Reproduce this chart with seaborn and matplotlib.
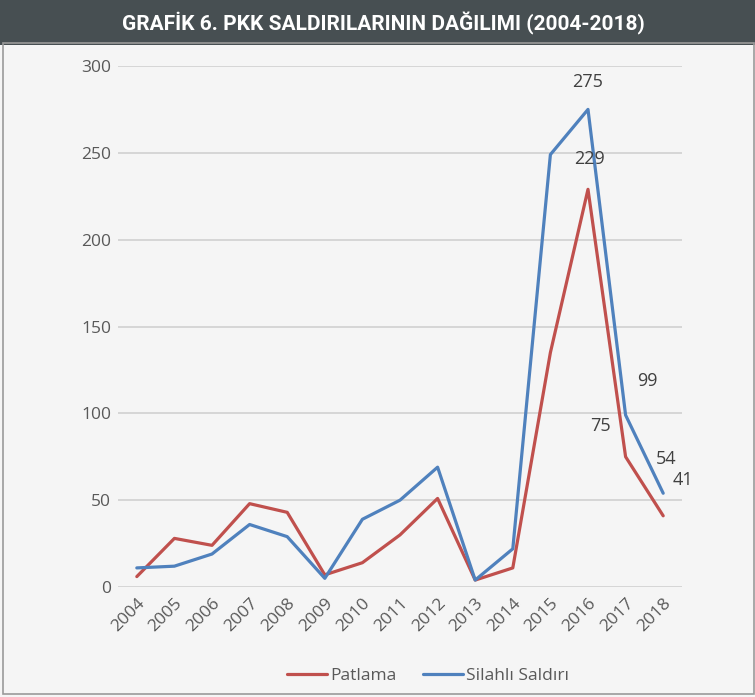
import pandas as pd
import numpy as np
import matplotlib
matplotlib.use("Agg")
import matplotlib.pyplot as plt
import seaborn as sns
from matplotlib.patches import Rectangle

years = [str(y) for y in range(2004, 2019)]
patlama = [6, 28, 24, 48, 43, 7, 14, 30, 51, 4, 11, 135, 229, 75, 41]
silahli = [11, 12, 19, 36, 29, 5, 39, 50, 69, 4, 22, 249, 275, 99, 54]
series_names = ["Patlama", "Silahlı Saldırı"]
title = "GRAFİK 6. PKK SALDIRILARININ DAĞILIMI (2004-2018)"

df = pd.DataFrame({"Yıl": years * 2,
                   "Sayı": patlama + silahli,
                   "Tür": [series_names[0]] * len(years) + [series_names[1]] * len(years)})

sns.set_style("white")
plt.rcParams["font.family"] = ["Open Sans", "DejaVu Sans"]

bg = "#f5f5f5"
fig = plt.figure(figsize=(7.55, 6.97), dpi=100, facecolor=bg)

# title bar
fig.patches.append(Rectangle((0, 0.9354), 1, 0.0646, transform=fig.transFigure,
                             facecolor="#474f52", edgecolor="none", zorder=0))
fig.text(0.508, 0.967, title, color="white", fontsize=15, fontweight="bold",
         ha="center", va="center", family=["Roboto", "DejaVu Sans"])
# outer frame
fig.patches.append(Rectangle((0.004, 0.004), 0.995, 0.935, transform=fig.transFigure,
                             facecolor="none", edgecolor="#9a9a9a", linewidth=1.2, zorder=0))

ax = fig.add_axes([0.1563, 0.1578, 0.747, 0.7475])
ax.set_facecolor(bg)
sns.lineplot(data=df, x="Yıl", y="Sayı", hue="Tür", sort=False, ax=ax,
             palette=["#c0504d", "#4f81bd"], linewidth=2.3, legend=False)

ax.set_xlim(-0.5, len(years) - 0.5)
ax.set_ylim(0, 300)
ax.set_yticks(range(0, 301, 50))
ax.grid(axis="y", color="#d0d0d0", linewidth=1.2)
ax.set_axisbelow(True)
for s in ax.spines.values():
    s.set_visible(False)
ax.set_xlabel("")
ax.set_ylabel("")
ax.tick_params(axis="both", length=0, colors="#595959", labelsize=12.5)
ax.tick_params(axis="y", pad=5)
ax.tick_params(axis="x", pad=6)
plt.setp(ax.get_xticklabels(), rotation=45, ha="right", rotation_mode="anchor")

# data labels
lab_kw = dict(textcoords="offset points", fontsize=13, color="#404040")
i16, i17, i18 = years.index("2016"), years.index("2017"), years.index("2018")
ax.annotate(str(silahli[i16]), (i16, silahli[i16]), xytext=(0, 13), ha="center", va="bottom", **lab_kw)
ax.annotate(str(patlama[i16]), (i16, patlama[i16]), xytext=(1, 15), ha="center", va="bottom", **lab_kw)
ax.annotate(str(silahli[i17]), (i17, silahli[i17]), xytext=(8, 18), ha="left", va="bottom", **lab_kw)
ax.annotate(str(patlama[i17]), (i17, patlama[i17]), xytext=(-11, 16), ha="right", va="bottom", **lab_kw)
ax.annotate(str(silahli[i18]), (i18, silahli[i18]), xytext=(2, 18), ha="center", va="bottom", **lab_kw)
ax.annotate(str(patlama[i18]), (i18, patlama[i18]), xytext=(7, 19), ha="left", va="bottom", **lab_kw)

handles = [plt.Line2D([], [], color=c, linewidth=2.3) for c in ["#c0504d", "#4f81bd"]]
fig.legend(handles, series_names, loc="center", bbox_to_anchor=(0.567, 0.03), ncol=2,
           frameon=False, fontsize=12.5, handlelength=2.3, handletextpad=0.2,
           columnspacing=1.5, labelcolor="#595959")

fig.savefig("out.png", dpi=100, facecolor=bg)
